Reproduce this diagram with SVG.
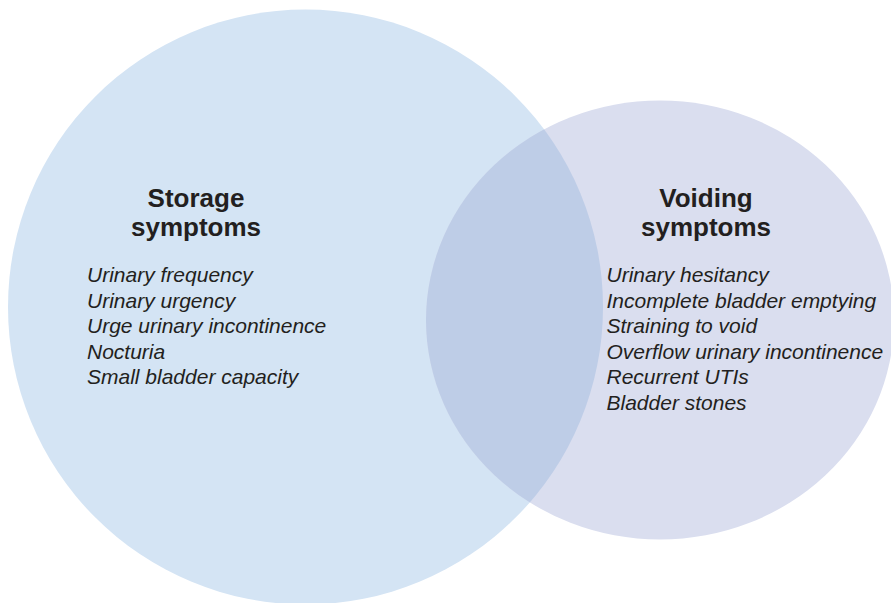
<svg xmlns="http://www.w3.org/2000/svg" width="891" height="603" viewBox="0 0 891 603">
  <style>
    .title { font-family: "Liberation Sans", Arial, sans-serif; font-weight: bold; font-size: 26px; fill: #231f20; text-anchor: middle; }
    .item { font-family: "Liberation Sans", Arial, sans-serif; font-style: italic; font-size: 21px; fill: #231f20; }
  </style>
  <defs>
    <clipPath id="storageClip">
      <circle cx="305.5" cy="307" r="297.5"/>
    </clipPath>
  </defs>

  <!-- Storage set -->
  <g id="storage-set">
    <circle cx="305.5" cy="307" r="297.5" fill="#d4e4f4"/>
  </g>

  <!-- Voiding set -->
  <g id="voiding-set">
    <ellipse cx="660" cy="320" rx="234" ry="219.5" fill="#dadeef"/>
  </g>

  <!-- Overlap of both sets -->
  <g id="overlap">
    <ellipse cx="660" cy="320" rx="234" ry="219.5" fill="#becde7" clip-path="url(#storageClip)"/>
  </g>

  <!-- Storage symptoms label -->
  <g id="storage-label">
    <text class="title" x="196" y="207">Storage</text>
    <text class="title" x="196" y="236">symptoms</text>
    <text class="item" x="87" y="282">Urinary frequency</text>
    <text class="item" x="87" y="307.5">Urinary urgency</text>
    <text class="item" x="87" y="333">Urge urinary incontinence</text>
    <text class="item" x="87" y="358.5">Nocturia</text>
    <text class="item" x="87" y="384">Small bladder capacity</text>
  </g>

  <!-- Voiding symptoms label -->
  <g id="voiding-label">
    <text class="title" x="706" y="207">Voiding</text>
    <text class="title" x="706" y="236">symptoms</text>
    <text class="item" x="606.5" y="282">Urinary hesitancy</text>
    <text class="item" x="606.5" y="307.5">Incomplete bladder emptying</text>
    <text class="item" x="606.5" y="333">Straining to void</text>
    <text class="item" x="606.5" y="358.5">Overflow urinary incontinence</text>
    <text class="item" x="606.5" y="384">Recurrent UTIs</text>
    <text class="item" x="606.5" y="409.5">Bladder stones</text>
  </g>

  <!-- no connectors in this diagram -->
  <g id="connectors"/>
</svg>
